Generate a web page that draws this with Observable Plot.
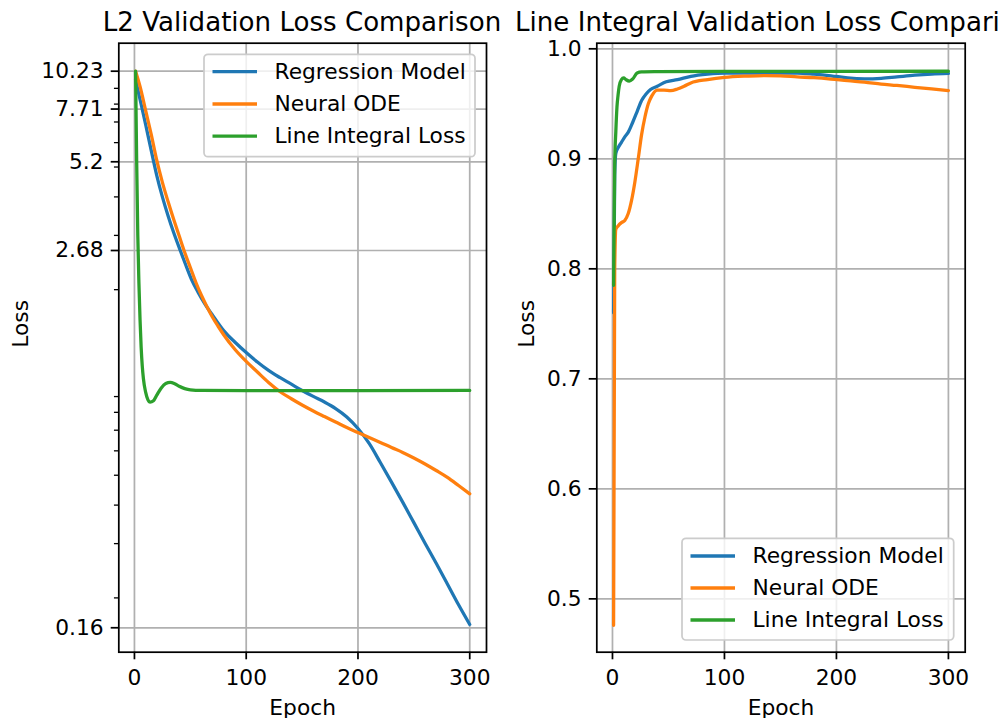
<!DOCTYPE html>
<html><head><meta charset="utf-8">
<script src="https://cdn.jsdelivr.net/npm/d3@7"></script>
<script src="https://cdn.jsdelivr.net/npm/@observablehq/plot@0.6"></script>
<style>
html,body{margin:0;padding:0;background:#fff;overflow:hidden;width:998px;height:718px;}
#wrap{position:relative;width:998px;height:718px;font-family:"DejaVu Sans";}
#wrap > *{position:absolute;top:0;}
</style></head><body><div id="wrap"></div>
<script>
const seriesNames = ["Regression Model", "Neural ODE", "Line Integral Loss"];
const seriesColors = ["#1f77b4", "#ff7f0e", "#2ca02c"];
const panelTitles = ["L2 Validation Loss Comparison", "Line Integral Validation Loss Comparison"];
const xLabel = "Epoch";
const yLabel = "Loss";
const epochTicks = [0, 100, 200, 300];
const l2Ticks = [0.16, 2.68, 5.2, 7.71, 10.23];
const l2MinorTicks = [0.2, 0.3, 0.4, 0.5, 0.6, 0.7, 0.8, 0.9, 2, 3, 4, 5, 6, 7, 8, 9];
const liTicks = [0.5, 0.6, 0.7, 0.8, 0.9, 1.0];

// L2 validation loss (left panel), [epoch, loss]
const l2Regression = [[1,9.62],[5,8.28],[10,6.87],[15,5.66],[20,4.69],[25,4.00],[30,3.48],[35,3.07],[41,2.68],[46,2.40],[51,2.16],[57,1.96],[63,1.80],[70,1.65],[80,1.47],[90,1.35],[100,1.25],[110,1.165],[120,1.094],[130,1.038],[140,0.989],[150,0.942],[160,0.901],[170,0.864],[180,0.823],[190,0.773],[200,0.709],[210,0.634],[220,0.550],[230,0.475],[240,0.409],[250,0.351],[260,0.301],[270,0.259],[280,0.222],[290,0.190],[300,0.164]];
const l2NeuralODE = [[1,10.23],[5,9.13],[10,7.63],[15,6.38],[20,5.25],[25,4.46],[30,3.87],[35,3.39],[40,2.99],[45,2.64],[50,2.36],[55,2.11],[60,1.915],[65,1.758],[70,1.625],[75,1.519],[80,1.426],[90,1.279],[100,1.170],[110,1.081],[120,1.000],[130,0.935],[140,0.887],[150,0.845],[160,0.808],[170,0.775],[180,0.744],[190,0.714],[200,0.688],[210,0.663],[220,0.639],[230,0.615],[240,0.593],[250,0.569],[260,0.544],[270,0.518],[280,0.492],[290,0.463],[300,0.435]];
const l2LineIntegral = [[1,10.23],[2,5.2],[3,3.0],[4,2.1],[5,1.6],[6,1.3],[7,1.13],[8,1.03],[10,0.93],[12,0.88],[14,0.863],[17,0.872],[20,0.91],[24,0.96],[28,0.992],[32,1.0],[36,0.99],[40,0.972],[45,0.955],[50,0.946],[60,0.942],[100,0.941],[200,0.941],[300,0.942]];

// Line integral validation loss (right panel), [epoch, loss]
const liRegression = [[1,0.76],[2,0.885],[3,0.905],[5,0.910],[8,0.915],[11,0.92],[14,0.924],[18,0.933],[22,0.943],[26,0.953],[30,0.959],[34,0.963],[40,0.966],[48,0.970],[58,0.972],[70,0.975],[85,0.977],[100,0.978],[130,0.978],[165,0.978],[180,0.977],[195,0.9755],[210,0.9735],[225,0.9727],[240,0.9732],[254,0.9745],[270,0.976],[285,0.977],[300,0.9776]];
const liNeuralODE = [[1,0.476],[2,0.80],[3,0.836],[5,0.839],[8,0.842],[11,0.844],[14,0.850],[17,0.862],[20,0.879],[23,0.9],[26,0.922],[29,0.938],[32,0.950],[35,0.957],[40,0.9625],[46,0.9625],[52,0.962],[58,0.9635],[64,0.966],[70,0.969],[85,0.972],[100,0.974],[120,0.9752],[136,0.9757],[150,0.9755],[165,0.9745],[180,0.9737],[195,0.9725],[210,0.971],[225,0.9697],[240,0.968],[254,0.9667],[270,0.965],[285,0.9635],[300,0.962]];
const liLineIntegral = [[1,0.785],[2,0.895],[3,0.925],[4,0.947],[5,0.958],[6,0.966],[8,0.972],[10,0.9735],[12,0.972],[15,0.9707],[18,0.9725],[22,0.978],[26,0.979],[40,0.9792],[100,0.9795],[200,0.9795],[300,0.9796]];

const toRows = (arr) => arr.map(([epoch, value]) => ({epoch, value}));

const FS = 21.75;
const wrap = document.getElementById("wrap");

function panel({left, width, ml, mr, y, yTicks, yFormat, minor, series, labelDx}) {
  const chart = Plot.plot({
    width, height: 718,
    marginLeft: ml, marginRight: mr, marginTop: 42.7, marginBottom: 66.3,
    x: {domain: [-14, 315]},
    y,
    style: {fontFamily: "DejaVu Sans", fontSize: FS + "px", color: "black", background: "transparent", overflow: "visible"},
    marks: [
      Plot.gridX(epochTicks, {stroke: "#b0b0b0", strokeOpacity: 1, strokeWidth: 1.74}),
      Plot.gridY(yTicks, {stroke: "#b0b0b0", strokeOpacity: 1, strokeWidth: 1.74}),
      ...series.map((d, i) => Plot.line(toRows(d), {x: "epoch", y: "value", stroke: seriesColors[i], strokeWidth: 3.27, curve: "monotone-x"})),
      Plot.frame({stroke: "black", strokeWidth: 1.74}),
      Plot.axisX(epochTicks, {tickSize: 7.6, tickPadding: 9.5, strokeWidth: 1.74, label: null}),
      Plot.axisY(yTicks, {tickSize: 7.6, tickPadding: 7.6, strokeWidth: 1.74, tickFormat: yFormat, label: null}),
      minor ? Plot.axisY(minor, {tickSize: 4.36, strokeWidth: 1.3, fill: "none", label: null}) : null,
      Plot.text([xLabel], {frameAnchor: "bottom", lineAnchor: "middle", dy: 55.5, text: d => d, fill: "black"}),
      Plot.text([yLabel], {frameAnchor: "left", lineAnchor: "middle", dx: labelDx, rotate: -90, text: d => d, fill: "black"})
    ]
  });
  chart.style.left = left + "px";
  wrap.appendChild(chart);
}

panel({
  left: 0, width: 498, ml: 118.3, mr: 12,
  y: {type: "log", domain: [0.1333, 12.61]},
  yTicks: l2Ticks, yFormat: d => String(d), minor: l2MinorTicks,
  series: [l2Regression, l2NeuralODE, l2LineIntegral], labelDx: -97.3
});
panel({
  left: 498, width: 500, ml: 98.3, mr: 33.3,
  y: {domain: [0.4515, 1.0051]},
  yTicks: liTicks, yFormat: d => d.toFixed(1), minor: null,
  series: [liRegression, liNeuralODE, liLineIntegral], labelDx: -69.3
});

// Overlay: titles and legends
const svg = d3.select(wrap).append("svg")
  .attr("width", 998).attr("height", 718)
  .style("left", "0px").style("pointer-events", "none")
  .style("font-family", "DejaVu Sans");

[[302, panelTitles[0]], [780.5, panelTitles[1]]].forEach(([cx, t]) => {
  svg.append("text").attr("x", cx).attr("y", 30.7).attr("text-anchor", "middle")
    .attr("font-size", 26.1).attr("fill", "black").text(t);
});

function legend(x0, y0, x1, y1, rows) {
  const g = svg.append("g");
  g.append("rect").attr("x", x0).attr("y", y0).attr("width", x1 - x0).attr("height", y1 - y0)
    .attr("rx", 4).attr("fill", "white").attr("fill-opacity", 0.8)
    .attr("stroke", "#cccccc").attr("stroke-width", 1.74);
  seriesNames.forEach((name, i) => {
    const ry = rows[i];
    g.append("line").attr("x1", x0 + 8.5).attr("x2", x0 + 53).attr("y1", ry).attr("y2", ry)
      .attr("stroke", seriesColors[i]).attr("stroke-width", 3.27);
    g.append("text").attr("x", x0 + 70.5).attr("y", ry).attr("dy", "0.33em")
      .attr("font-size", FS).attr("fill", "black").text(name);
  });
}
legend(204, 54.3, 475, 156.7, [71.7, 104, 136.2]);
legend(682, 538.3, 953.7, 640, [556, 588, 620]);
</script></body></html>
